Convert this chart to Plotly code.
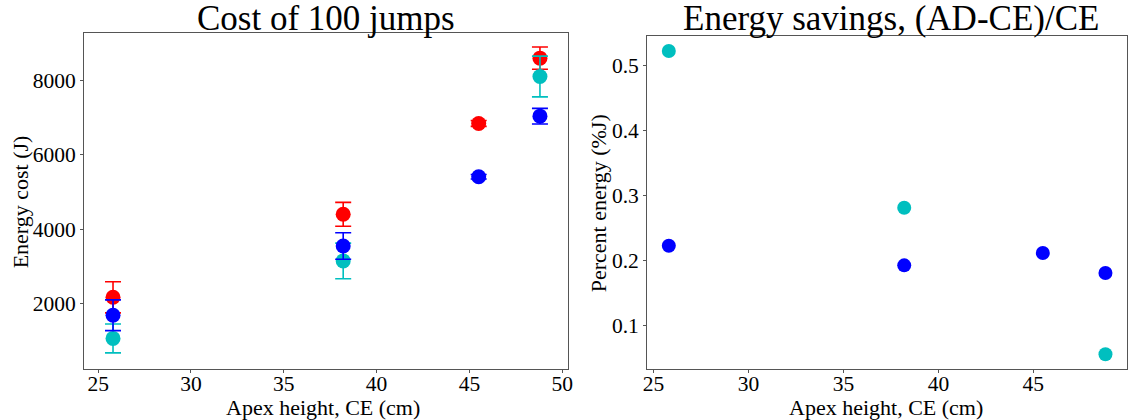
import plotly.graph_objects as go

# ---- data ----
apex_height = [25.8, 38.2, 45.5, 48.8]

cost_red = [2160, 4397, 6848, 8610]
cost_red_err = [420, 323, 80, 300]
cost_blue = [1675, 3543, 5410, 7045]
cost_blue_err = [415, 358, 60, 210]
cost_cyan_x = [25.8, 38.2, 48.8]
cost_cyan = [1050, 3140, 8115]
cost_cyan_err = [390, 480, 550]

sav_cyan_x = [25.8, 38.2, 48.8]
sav_cyan = [0.5225, 0.2813, 0.056]
sav_blue = [0.2229, 0.1927, 0.2117, 0.1809]

x_ticks = [25, 30, 35, 40, 45, 50]
left_y_ticks = [2000, 4000, 6000, 8000]
right_y_ticks = [0.1, 0.2, 0.3, 0.4, 0.5]

RED = "#ff0000"
BLUE = "#0000ff"
CYAN = "#00bfbf"
FONT = "Liberation Serif"

fig = go.Figure()

def err_trace(x, y, e, color, xa, ya):
    return go.Scatter(
        x=x, y=y, mode="markers", xaxis=xa, yaxis=ya,
        marker=dict(color=color, size=15, line=dict(width=0)),
        error_y=dict(type="data", array=e, visible=True, color=color,
                     thickness=1.6, width=8),
        showlegend=False, hoverinfo="x+y",
    )

fig.add_trace(err_trace(apex_height, cost_red, cost_red_err, RED, "x", "y"))
fig.add_trace(err_trace(cost_cyan_x, cost_cyan, cost_cyan_err, CYAN, "x", "y"))
fig.add_trace(err_trace(apex_height, cost_blue, cost_blue_err, BLUE, "x", "y"))

fig.add_trace(go.Scatter(x=sav_cyan_x, y=sav_cyan, mode="markers", xaxis="x2", yaxis="y2",
                         marker=dict(color=CYAN, size=14, line=dict(width=0)), showlegend=False))
fig.add_trace(go.Scatter(x=apex_height, y=sav_blue, mode="markers", xaxis="x2", yaxis="y2",
                         marker=dict(color=BLUE, size=14, line=dict(width=0)), showlegend=False))

axis_common = dict(
    showline=True, linecolor="#555555", linewidth=1, mirror=True,
    ticks="outside", ticklen=3, tickcolor="#555555", tickwidth=1,
    showgrid=False, zeroline=False,
    tickfont=dict(family=FONT, size=21.5, color="black"),
)
xaxis_extra = dict(ticklabelstandoff=-8)

def ann(text, x, y, size, angle=0, xshift=0):
    return dict(text=text, xref="paper", yref="paper", x=x, y=y,
                xanchor="center", yanchor="middle", textangle=angle,
                xshift=xshift, showarrow=False,
                font=dict(family=FONT, size=size, color="black"))

fig.update_layout(
    width=1135, height=420,
    margin=dict(l=0, r=0, t=0, b=0),
    paper_bgcolor="white", plot_bgcolor="white",
    font=dict(family=FONT, color="black"),
    xaxis=dict(domain=[0.0711, 0.5007], range=[24.24, 50.30], tickvals=x_ticks,
               anchor="y", **axis_common, **xaxis_extra),
    yaxis=dict(domain=[0.121, 0.9225], range=[220, 9300], tickvals=left_y_ticks,
               anchor="x", **axis_common),
    xaxis2=dict(domain=[0.5712, 0.9976], range=[24.66, 49.95], tickvals=x_ticks[:-1],
                anchor="y2", **axis_common, **xaxis_extra),
    yaxis2=dict(domain=[0.121, 0.915], range=[0.033, 0.546], tickvals=right_y_ticks,
                anchor="x2", **axis_common),
    annotations=[
        ann("Cost of 100 jumps", (0.0711 + 0.5007) / 2, 0.957, 35),
        ann("Energy savings, (AD-CE)/CE", (0.5712 + 0.9976) / 2, 0.957, 35, xshift=4),
        ann("Apex height, CE (cm)", 322 / 1135, (420 - 407) / 420, 22),
        ann("Apex height, CE (cm)", 889 / 1135, (420 - 407) / 420, 22),
        ann("Energy cost (J)", 17.5 / 1135, (420 - 202) / 420, 22, angle=-90),
        ann("Percent energy (%J)", 600 / 1135, (420 - 203) / 420, 22, angle=-90),
    ],
)

fig.write_html("out.html")
